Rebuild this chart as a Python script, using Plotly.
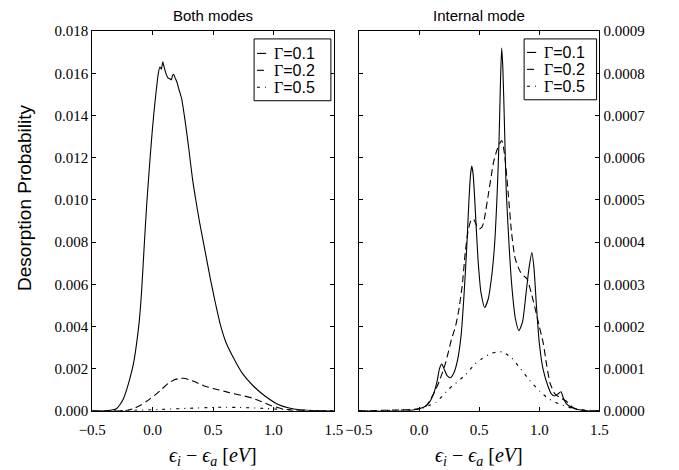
import plotly.graph_objects as go

# ---- Both modes (left panel) ----
both_x_g01 = [-0.5, -0.4, -0.35, -0.3, -0.27, -0.24, -0.21, -0.19, -0.16, -0.135, -0.11, -0.09,
              -0.07, -0.05, -0.03, -0.01, 0.01, 0.03, 0.047, 0.06, 0.072, 0.084, 0.095, 0.11,
              0.125, 0.14, 0.155, 0.165, 0.175, 0.185, 0.2, 0.22, 0.24, 0.27, 0.3, 0.33, 0.36,
              0.39, 0.42, 0.45, 0.48, 0.52, 0.56, 0.61, 0.67, 0.74, 0.83, 0.93, 1.04, 1.13,
              1.22, 1.35, 1.5]
both_y_g01 = [0, 0, 0.00002, 0.0001, 0.0003, 0.0006, 0.0011, 0.0015, 0.0022, 0.0031, 0.0043, 0.0058,
              0.0078, 0.0097, 0.0113, 0.0128, 0.0141, 0.0152, 0.0160, 0.0163, 0.0162, 0.01655, 0.0163, 0.0160,
              0.0158, 0.01575, 0.0157, 0.0159, 0.01595, 0.0158, 0.0156, 0.0152, 0.0148, 0.0137, 0.0124, 0.0110, 0.0099,
              0.0089, 0.0080, 0.0071, 0.0062, 0.0051, 0.0041, 0.0032, 0.0025, 0.0018, 0.0012, 0.0007, 0.0003, 0.00013,
              0.00005, 0.00001, 0]

both_x_g02 = [-0.5, -0.3, -0.21, -0.16, -0.108, -0.05, 0.026, 0.08, 0.132, 0.18, 0.22, 0.252, 0.3,
              0.36, 0.426, 0.5, 0.57, 0.638, 0.73, 0.826, 0.9, 0.986, 1.07, 1.15, 1.3, 1.5]
both_y_g02 = [0, 0, 0.00002, 0.0001, 0.00024, 0.00045, 0.00078, 0.00105, 0.00131, 0.00147, 0.00153, 0.00154, 0.00148,
              0.00135, 0.00118, 0.00106, 0.00096, 0.00086, 0.00074, 0.0006, 0.00044, 0.00024, 0.0001, 0.00003, 0, 0]

both_x_g05 = [-0.5, -0.3, -0.1, 0.1, 0.3, 0.5, 0.6, 0.7, 0.9, 1.1, 1.3, 1.5]
both_y_g05 = [0, 0.00001, 0.00003, 0.00007, 0.00012, 0.00016, 0.00017, 0.00016, 0.00012, 0.00006, 0.00002, 0]

# ---- Internal mode (right panel) ----
int_x_g01 = [-0.5, -0.1, 0.0, 0.05, 0.086, 0.12, 0.15, 0.17, 0.189, 0.21, 0.235, 0.262, 0.29, 0.32,
             0.35, 0.375, 0.397, 0.415, 0.428, 0.438, 0.45, 0.465, 0.49, 0.515, 0.546, 0.575, 0.6,
             0.627, 0.65, 0.665, 0.677, 0.687, 0.697, 0.71, 0.725, 0.749, 0.77, 0.8, 0.83, 0.86,
             0.89, 0.915, 0.938, 0.955, 0.978, 1.0, 1.03, 1.07, 1.1, 1.127, 1.155, 1.18, 1.2,
             1.23, 1.27, 1.32, 1.4, 1.5]
int_y_g01 = [0, 0, 0.000005, 0.00001, 0.00002, 0.00004, 0.00007, 0.0001, 0.000111, 0.000098, 0.000083, 0.0000785, 0.00009, 0.00012,
             0.00018, 0.00028, 0.00039, 0.0005, 0.00056, 0.00058, 0.00056, 0.00049, 0.00036, 0.00028, 0.000245, 0.000265, 0.00031,
             0.00039, 0.00052, 0.00064, 0.00078, 0.00086, 0.00081, 0.00068, 0.00052, 0.00039, 0.0003, 0.00022, 0.00019, 0.00021,
             0.00028, 0.00034, 0.000375, 0.00034, 0.00024, 0.00016, 0.0001, 0.00006, 0.00004, 0.000035, 0.00004, 0.000045, 0.00003,
             0.000015, 0.000008, 0.000003, 0, 0]

int_x_g02 = [-0.5, 0.0, 0.06, 0.12, 0.167, 0.222, 0.27, 0.303, 0.33, 0.36, 0.384, 0.41, 0.43, 0.451,
             0.47, 0.49, 0.51, 0.53, 0.546, 0.58, 0.62, 0.65, 0.687, 0.71, 0.74, 0.77, 0.8, 0.843,
             0.87, 0.897, 0.95, 1.0, 1.033, 1.06, 1.09, 1.13, 1.18, 1.22, 1.27, 1.32, 1.4, 1.5]
int_y_g02 = [0, 0.000005, 0.000012, 0.00004, 0.000069, 0.000115, 0.00017, 0.0002, 0.000238, 0.0003, 0.000375, 0.00043, 0.00045, 0.000455,
             0.000445, 0.000433, 0.000432, 0.00044, 0.00046, 0.00052, 0.00059, 0.00062, 0.000641, 0.00061, 0.00052, 0.00042, 0.00036, 0.000329,
             0.00032, 0.000313, 0.00026, 0.0002, 0.00016, 0.00011, 0.000065, 0.00004, 0.00003, 0.000024, 0.00001, 0.000003, 0, 0]

int_x_g05 = [-0.5, 0.0, 0.08, 0.14, 0.25, 0.384, 0.465, 0.519, 0.6, 0.654, 0.7, 0.77, 0.843, 0.92,
             1.005, 1.08, 1.17, 1.3, 1.5]
int_y_g05 = [0, 0.000004, 0.000012, 0.00002, 0.000052, 0.000085, 0.000111, 0.000123, 0.000136, 0.00014, 0.000139, 0.000125, 0.0001, 0.000072,
             0.000046, 0.000028, 0.000016, 0.000004, 0]

gamma_labels = ["0.1", "0.2", "0.5"]
x_ticks = [-0.5, 0.0, 0.5, 1.0, 1.5]
panel_titles = ["Both modes", "Internal mode"]

W, H = 679, 470
SERIF = "Liberation Serif"
SANS = "Liberation Sans"
dashes = ["solid", "7px,4px", "3px,5px,1px,5px"]


def px(x):
    return x / W


def py(y):
    return 1 - y / H


fig = go.Figure()

left_sets = [(both_x_g01, both_y_g01), (both_x_g02, both_y_g02), (both_x_g05, both_y_g05)]
right_sets = [(int_x_g01, int_y_g01), (int_x_g02, int_y_g02), (int_x_g05, int_y_g05)]

for i, (xs, ys) in enumerate(left_sets):
    fig.add_trace(go.Scatter(x=xs, y=ys, mode="lines", xaxis="x", yaxis="y",
                             name="Γ=" + gamma_labels[i], showlegend=False,
                             line=dict(color="black", width=1.1, dash=dashes[i],
                                       shape="spline", smoothing=0.6)))
for i, (xs, ys) in enumerate(right_sets):
    fig.add_trace(go.Scatter(x=xs, y=ys, mode="lines", xaxis="x2", yaxis="y2",
                             name="Γ=" + gamma_labels[i], showlegend=False,
                             line=dict(color="black", width=1.1, dash=dashes[i],
                                       shape="spline", smoothing=0.6)))

axis_style = dict(showline=True, linecolor="black", linewidth=1, mirror="ticks",
                  ticks="inside", ticklen=4, tickwidth=1, tickcolor="black",
                  showgrid=False, zeroline=False,
                  tickfont=dict(family=SERIF, size=15, color="black"))

y0, y1 = py(417), py(24)
fig.update_layout(
    width=W, height=H,
    margin=dict(l=0, r=0, t=0, b=0),
    paper_bgcolor="white", plot_bgcolor="white",
    font=dict(family=SERIF, color="black"),
    xaxis=dict(domain=[px(81), px(331)], range=[-0.5, 1.5], tickvals=x_ticks,
               tickformat=".1f", anchor="y", ticklabelstandoff=5, **axis_style),
    yaxis=dict(domain=[y0, y1], range=[0, 0.018], dtick=0.002, tickformat=".3f",
               anchor="x", **axis_style),
    xaxis2=dict(domain=[px(357), px(606)], range=[-0.5, 1.5], tickvals=x_ticks,
                tickformat=".1f", anchor="y2", ticklabelstandoff=5, **axis_style),
    yaxis2=dict(domain=[y0, y1], range=[0, 0.0009], dtick=0.0001, tickformat=".4f",
                anchor="x2", side="right", **axis_style),
)

xlabel = "<i>ϵ</i><sub><i>i</i></sub> − <i>ϵ</i><sub><i>a</i></sub> [<i>e</i><i>V</i>]"
for k, xr in enumerate(["x", "x2"]):
    fig.add_annotation(text=panel_titles[k], xref=f"{xr} domain", yref="paper",
                       x=0.5, y=py(8), showarrow=False, yanchor="middle",
                       font=dict(family=SANS, size=15, color="black"))
    fig.add_annotation(text=xlabel, xref=f"{xr} domain", yref="paper",
                       x=0.5, y=py(464), showarrow=False, yanchor="middle",
                       font=dict(family=SERIF, size=20, color="black"))

fig.add_annotation(text="Desorption Probability", xref="paper", yref="paper",
                   x=px(11), y=py(197), textangle=-90, showarrow=False,
                   xanchor="center", yanchor="middle",
                   font=dict(family=SANS, size=19, color="black"))

# legend boxes drawn in pixel space of the page
legend_boxes = [
    dict(box=(248.5, 32, 328, 96), sample=(251.5, 261), text_x=267, rows=[47, 64.5, 82]),
    dict(box=(528, 32, 603, 95), sample=(531, 540.5), text_x=546, rows=[46, 63.5, 81]),
]
for lg in legend_boxes:
    bx0, by0, bx1, by1 = lg["box"]
    fig.add_shape(type="rect", xref="paper", yref="paper",
                  x0=px(bx0), x1=px(bx1), y0=py(by1), y1=py(by0),
                  line=dict(color="black", width=1), fillcolor="white", layer="above")
    for i, ry in enumerate(lg["rows"]):
        sx0, sx1 = lg["sample"]
        fig.add_shape(type="line", xref="paper", yref="paper",
                      x0=px(sx0), x1=px(sx1), y0=py(ry), y1=py(ry),
                      line=dict(color="black", width=1.1, dash=dashes[i]), layer="above")
        fig.add_annotation(text="Γ<span style='font-family:Liberation Sans'>=" + gamma_labels[i] + "</span>",
                           xref="paper", yref="paper", x=px(lg["text_x"]), y=py(ry),
                           xanchor="left", yanchor="middle", showarrow=False,
                           font=dict(family=SERIF, size=16, color="black"))

fig.write_html("out.html")
